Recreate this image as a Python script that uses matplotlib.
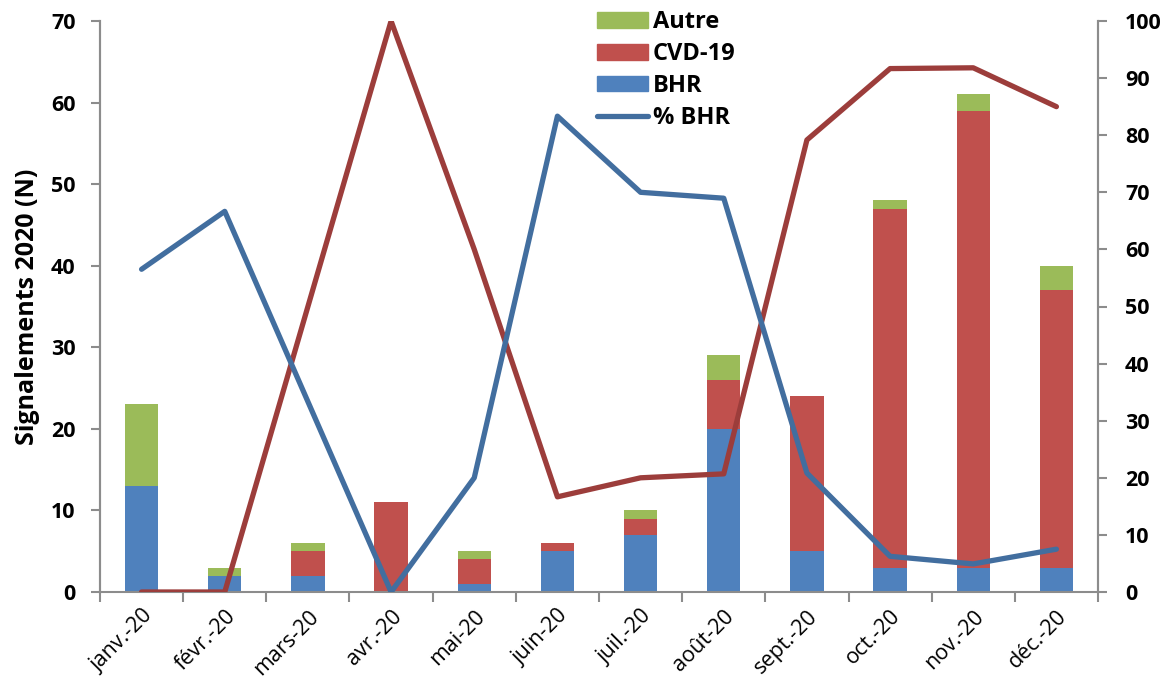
import numpy as np
import matplotlib
matplotlib.use('Agg')
import matplotlib.pyplot as plt
from matplotlib.patches import Patch
from matplotlib.lines import Line2D

plt.rcParams['font.family'] = ['Open Sans', 'DejaVu Sans']

# Signalements mensuels 2020
mois = ['janv.-20', 'févr.-20', 'mars-20', 'avr.-20', 'mai-20', 'juin-20',
        'juil.-20', 'août-20', 'sept.-20', 'oct.-20', 'nov.-20', 'déc.-20']
bhr = [13, 2, 2, 0, 1, 5, 7, 20, 5, 3, 3, 3]
cvd = [0, 0, 3, 11, 3, 1, 2, 6, 19, 44, 56, 34]
autre = [10, 1, 1, 0, 1, 0, 1, 3, 0, 1, 2, 3]

bhr_a = np.array(bhr, dtype=float)
cvd_a = np.array(cvd, dtype=float)
autre_a = np.array(autre, dtype=float)
total = bhr_a + cvd_a + autre_a
pct_bhr = bhr_a / total * 100
pct_cvd = cvd_a / total * 100

c_bhr = '#4F81BD'
c_cvd = '#C0504D'
c_autre = '#9BBB59'
c_ligne_bhr = '#426E9F'
c_ligne_cvd = '#9C3D3B'
gris = '#8C8C8C'

fig = plt.figure(figsize=(11.73, 6.84), dpi=100)
ax = fig.add_axes([100 / 1173, (684 - 592) / 684, 998 / 1173, 571 / 684])
x = np.arange(len(mois))
w = 0.4

ax.bar(x, bhr_a, w, color=c_bhr, zorder=2)
ax.bar(x, cvd_a, w, bottom=bhr_a, color=c_cvd, zorder=2)
ax.bar(x, autre_a, w, bottom=bhr_a + cvd_a, color=c_autre, zorder=2)

ax.set_xlim(-0.5, len(mois) - 0.5)
ax.set_ylim(0, 70)
ax.set_yticks(range(0, 71, 10))
ax.set_ylabel('Signalements 2020 (N)', fontsize=18, fontweight='bold', labelpad=8)

ax.set_xticks(x)
ax.set_xticklabels(mois, rotation=45, ha='right', rotation_mode='anchor', fontsize=15.5)
ax.set_xticks(np.arange(-0.5, len(mois)), minor=True)
ax.tick_params(axis='x', which='major', length=0, pad=10)
ax.tick_params(axis='x', which='minor', length=7, color=gris, width=1.5, direction='out')
ax.tick_params(axis='y', length=6.5, color=gris, width=1.5, labelsize=15.5,
               direction='out', pad=11)
for lab in ax.get_yticklabels():
    lab.set_fontweight('bold')

ax2 = ax.twinx()
ax2.plot(x, pct_cvd, color=c_ligne_cvd, lw=3.8, solid_capstyle='round', zorder=3)
ax2.plot(x, pct_bhr, color=c_ligne_bhr, lw=3.8, solid_capstyle='round', zorder=4)
ax2.set_ylim(0, 100)
ax2.set_yticks(range(0, 101, 10))
ax2.tick_params(axis='y', length=6.5, color=gris, width=1.5, labelsize=15.5,
                direction='out', pad=13)
for lab in ax2.get_yticklabels():
    lab.set_fontweight('bold')

for a in (ax, ax2):
    a.spines['top'].set_visible(False)
    for s in ('left', 'right', 'bottom'):
        a.spines[s].set_color(gris)
        a.spines[s].set_linewidth(1.5)
ax2.spines['bottom'].set_visible(False)

handles = [Patch(color=c_autre), Patch(color=c_cvd), Patch(color=c_bhr),
           Line2D([], [], color=c_ligne_bhr, lw=3.8, solid_capstyle='round')]
leg = ax2.legend(handles, ['Autre', 'CVD-19', 'BHR', '% BHR'], loc='upper left',
                 bbox_to_anchor=(0.477, 1.056), frameon=False, handlelength=2.15,
                 handleheight=0.65, labelspacing=0.33, handletextpad=0.2,
                 prop={'size': 17, 'weight': 'bold'})

fig.savefig('out.png', dpi=100)
